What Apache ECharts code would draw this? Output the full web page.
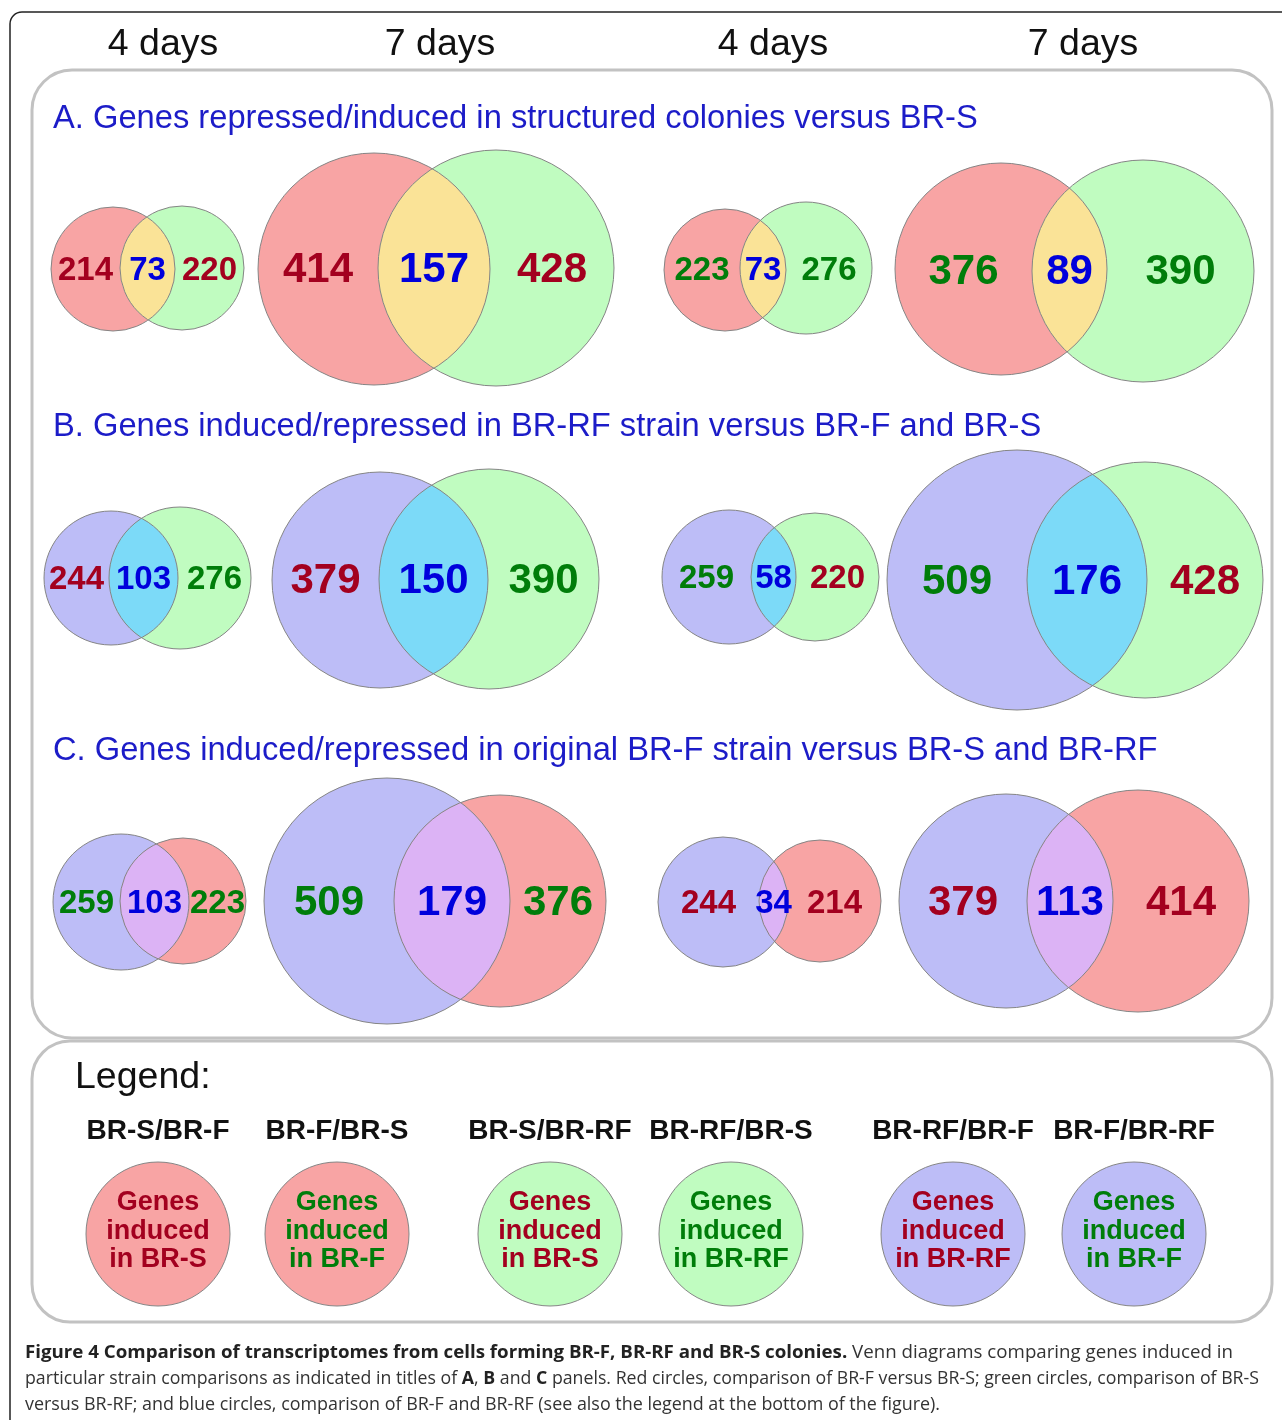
<!DOCTYPE html>
<html><head><meta charset="utf-8">
<script src="https://cdn.jsdelivr.net/npm/echarts@6/dist/echarts.min.js"></script>
<style>html,body{margin:0;padding:0;background:#fff}#c{width:1282px;height:1420px}</style>
</head><body><div id="c"></div>
<script>
// ---------------- DATA ----------------
const columnHeaders = ['4 days', '7 days', '4 days', '7 days'];
const panelTitles = [
  'A. Genes repressed/induced in structured colonies versus BR-S',
  'B. Genes induced/repressed in BR-RF strain versus BR-F and BR-S',
  'C. Genes induced/repressed in original BR-F strain versus BR-S and BR-RF'
];
// counts per Venn diagram: [left only, overlap, right only]
const countsA = [[214, 73, 220], [414, 157, 428], [223, 73, 276], [376, 89, 390]];
const countsB = [[244, 103, 276], [379, 150, 390], [259, 58, 220], [509, 176, 428]];
const countsC = [[259, 103, 223], [509, 179, 376], [244, 34, 214], [379, 113, 414]];
const legendPairs = ['BR-S/BR-F', 'BR-F/BR-S', 'BR-S/BR-RF', 'BR-RF/BR-S', 'BR-RF/BR-F', 'BR-F/BR-RF'];
const legendInduced = ['BR-S', 'BR-F', 'BR-S', 'BR-RF', 'BR-RF', 'BR-F'];
const captionLine1Bold = 'Figure 4 Comparison of transcriptomes from cells forming BR-F, BR-RF and BR-S colonies.';
const captionLine1 = ' Venn diagrams comparing genes induced in';
const captionLine2 = ['particular strain comparisons as indicated in titles of ', 'A', ', ', 'B', ' and ', 'C', ' panels. Red circles, comparison of BR-F versus BR-S; green circles, comparison of BR-S'];
const captionLine3 = 'versus BR-RF; and blue circles, comparison of BR-F and BR-RF (see also the legend at the bottom of the figure).';

// ---------------- STYLE / LAYOUT ----------------
const FILL = { red: '#f8a4a4', green: '#c0fcc0', blue: '#bdbdf7' };
const LENS = { 'red-green': '#fae397', 'blue-green': '#7cdaf8', 'blue-red': '#dcb3f5' };
const TXT = { r: '#a3001f', b: '#0000dc', g: '#007d0a' };
const STROKE = '#858585';
const rowCircleColors = [['red', 'green'], ['blue', 'green'], ['blue', 'red']];
const rowLabelColors = [
  [['r', 'b', 'r'], ['r', 'b', 'r'], ['g', 'b', 'g'], ['g', 'b', 'g']],
  [['r', 'b', 'g'], ['r', 'b', 'g'], ['g', 'b', 'r'], ['g', 'b', 'r']],
  [['g', 'b', 'g'], ['g', 'b', 'g'], ['r', 'b', 'r'], ['r', 'b', 'r']]
];
// circle geometry in axis units: [cx1, cy1, r1, cx2, cy2, r2]
const vennGeometry = [
  [[113, 269, 62, 182, 268, 62], [374, 269, 116, 496, 268, 118], [725, 270, 61, 806, 268, 66], [1001, 269, 106, 1143, 271, 111]],
  [[111, 578, 67, 180, 578, 71], [380, 580, 108, 489, 579, 110], [729, 577, 67, 815, 577, 64], [1017, 580, 130, 1145, 580, 118]],
  [[121, 902, 68, 183, 901, 63], [387, 901, 123, 500, 901, 106], [723, 902, 65, 820, 901, 61], [1006, 901, 107, 1138, 901, 111]]
];
const legendGeometry = [[158, 1234, 72], [337, 1234, 72], [550, 1234, 72], [731, 1234, 72], [953, 1234, 72], [1134, 1234, 72]];
const legendColors = ['red', 'red', 'green', 'green', 'blue', 'blue'];
const legendTextColors = ['r', 'g', 'r', 'g', 'r', 'g'];

const allCounts = [countsA, countsB, countsC];
const vennItems = [];
allCounts.forEach((rowCounts, ri) => {
  rowCounts.forEach((cnt, ci) => {
    vennItems.push({ row: ri, col: ci, geom: vennGeometry[ri][ci], counts: cnt });
  });
});

const SANS = '"Liberation Sans", Arial, Helvetica, sans-serif';

function circlePts(cx, cy, r, t0, t1, n) {
  const p = [];
  for (let k = 0; k <= n; k++) {
    const t = t0 + (t1 - t0) * k / n;
    p.push([cx + r * Math.cos(t), cy + r * Math.sin(t)]);
  }
  return p;
}

function renderVenn(params, api) {
  const it = vennItems[params.dataIndex];
  const c1 = api.coord([api.value(0), api.value(1)]);
  const r1 = Math.abs(api.size([api.value(2), 0])[0]);
  const c2 = api.coord([api.value(3), api.value(4)]);
  const r2 = Math.abs(api.size([api.value(5), 0])[0]);
  const cols = rowCircleColors[it.row];
  const dx = c2[0] - c1[0], dy = c2[1] - c1[1], d = Math.hypot(dx, dy);
  const a = (r1 * r1 - r2 * r2 + d * d) / (2 * d);
  const al1 = Math.acos(Math.max(-1, Math.min(1, a / r1)));
  const al2 = Math.acos(Math.max(-1, Math.min(1, (d - a) / r2)));
  const t0 = Math.atan2(dy, dx);
  const lens = circlePts(c1[0], c1[1], r1, t0 - al1, t0 + al1, 60)
    .concat(circlePts(c2[0], c2[1], r2, t0 + Math.PI - al2, t0 + Math.PI + al2, 60));
  const big = r1 > 90;
  const fs = big ? 42 : 33;
  const ly = (c1[1] + c2[1]) / 2 + 2;
  const xs = [
    (c1[0] - r1 + c2[0] - r2) / 2,
    (c2[0] - r2 + c1[0] + r1) / 2,
    (c1[0] + r1 + c2[0] + r2) / 2
  ];
  const lc = rowLabelColors[it.row][it.col];
  const children = [
    { type: 'circle', shape: { cx: c1[0], cy: c1[1], r: r1 }, style: { fill: FILL[cols[0]] } },
    { type: 'circle', shape: { cx: c2[0], cy: c2[1], r: r2 }, style: { fill: FILL[cols[1]] } },
    { type: 'polygon', shape: { points: lens }, style: { fill: LENS[cols[0] + '-' + cols[1]] } },
    { type: 'circle', shape: { cx: c1[0], cy: c1[1], r: r1 }, style: { fill: 'none', stroke: STROKE, lineWidth: 1 } },
    { type: 'circle', shape: { cx: c2[0], cy: c2[1], r: r2 }, style: { fill: 'none', stroke: STROKE, lineWidth: 1 } }
  ];
  for (let k = 0; k < 3; k++) {
    children.push({
      type: 'text',
      style: {
        text: String(api.value(6 + k)), x: xs[k], y: ly,
        fill: TXT[lc[k]], font: 'bold ' + fs + 'px ' + SANS,
        textAlign: 'center', textVerticalAlign: 'middle'
      }
    });
  }
  return { type: 'group', children: children };
}

function renderLegend(params, api) {
  const i = params.dataIndex;
  const c = api.coord([api.value(0), api.value(1)]);
  const r = Math.abs(api.size([api.value(2), 0])[0]);
  const tc = TXT[legendTextColors[i]];
  const lines = ['Genes', 'induced', 'in ' + legendInduced[i]];
  const children = [
    { type: 'circle', shape: { cx: c[0], cy: c[1], r: r }, style: { fill: FILL[legendColors[i]], stroke: STROKE, lineWidth: 1 } },
    { type: 'text', style: { text: legendPairs[i], x: c[0], y: c[1] - 103, fill: '#111', font: 'bold 28px ' + SANS, textAlign: 'center', textVerticalAlign: 'middle' } }
  ];
  lines.forEach((ln, k) => {
    children.push({ type: 'text', style: { text: ln, x: c[0], y: c[1] - 31 + k * 28.5, fill: tc, font: 'bold 27px ' + SANS, textAlign: 'center', textVerticalAlign: 'middle' } });
  });
  return { type: 'group', children: children };
}

// caption scale per line to match the condensed typeface widths
const mctx = document.createElement('canvas').getContext('2d');
function mw(txt, bold) { mctx.font = (bold ? 'bold ' : '') + '18px "Open Sans"'; return mctx.measureText(txt).width; }
const w1 = mw(captionLine1Bold, true) + mw(captionLine1, false);
const w2 = captionLine2.reduce((s, t, k) => s + mw(t, k % 2 === 1), 0);
const w3 = mw(captionLine3, false);
const capTargets = [1208, 1234, 915];
const capScales = [capTargets[0] / w1, capTargets[1] / w2, capTargets[2] / w3];

const graphics = [
  { type: 'rect', shape: { x: 10, y: 12, width: 1300, height: 1440, r: 12 }, style: { fill: 'none', stroke: '#222', lineWidth: 1.5 }, z: 1 },
  { type: 'rect', shape: { x: 32, y: 70, width: 1240, height: 968, r: 40 }, style: { fill: 'none', stroke: '#c2c2c2', lineWidth: 3 }, z: 1 },
  { type: 'rect', shape: { x: 32, y: 1041, width: 1240, height: 281, r: 38 }, style: { fill: 'none', stroke: '#c2c2c2', lineWidth: 3 }, z: 1 },
  { type: 'text', x: 75, y: 1078, style: { text: 'Legend:', fill: '#111', font: '37.5px ' + SANS, textVerticalAlign: 'middle' } }
];
const headerX = [163, 440, 773, 1083];
columnHeaders.forEach((h, i) => graphics.push({ type: 'text', x: headerX[i], y: 45, style: { text: h, fill: '#111', font: '37.5px ' + SANS, textAlign: 'center', textVerticalAlign: 'middle' } }));
const titleY = [119, 427, 751];
panelTitles.forEach((t, i) => graphics.push({ type: 'text', x: 53, y: titleY[i], style: { text: t, fill: '#1c1cc8', font: '32.7px ' + SANS, textVerticalAlign: 'middle' } }));
const capRich = {
  b: { fontFamily: 'Open Sans', fontWeight: 'bold', fontSize: 18, fill: '#222' },
  n: { fontFamily: 'Open Sans', fontWeight: 'normal', fontSize: 18, fill: '#333' }
};
const line2Text = captionLine2.map((s, k) => (k % 2 === 1 ? '{b|' + s + '}' : '{n|' + s + '}')).join('');
[
  '{b|' + captionLine1Bold + '}{n|' + captionLine1 + '}',
  line2Text,
  '{n|' + captionLine3 + '}'
].forEach((t, i) => graphics.push({
  type: 'text', x: 25, y: 1353 + i * 26, scaleX: capScales[i],
  style: { text: t, rich: capRich, textVerticalAlign: 'middle', font: '18px "Open Sans"' }
}));

const chart = echarts.init(document.getElementById('c'), null, { renderer: 'canvas' });
chart.setOption({
  animation: false,
  backgroundColor: '#fff',
  grid: { left: 0, right: 0, top: 0, bottom: 0 },
  xAxis: { type: 'value', min: 0, max: 1282, show: false },
  yAxis: { type: 'value', min: 0, max: 1420, inverse: true, show: false },
  graphic: graphics,
  series: [
    {
      type: 'custom', name: 'venn', clip: false, renderItem: renderVenn,
      data: vennItems.map(v => v.geom.concat(v.counts))
    },
    {
      type: 'custom', name: 'legend', clip: false, renderItem: renderLegend,
      data: legendGeometry.map(g => g.slice())
    }
  ]
});
</script></body></html>
